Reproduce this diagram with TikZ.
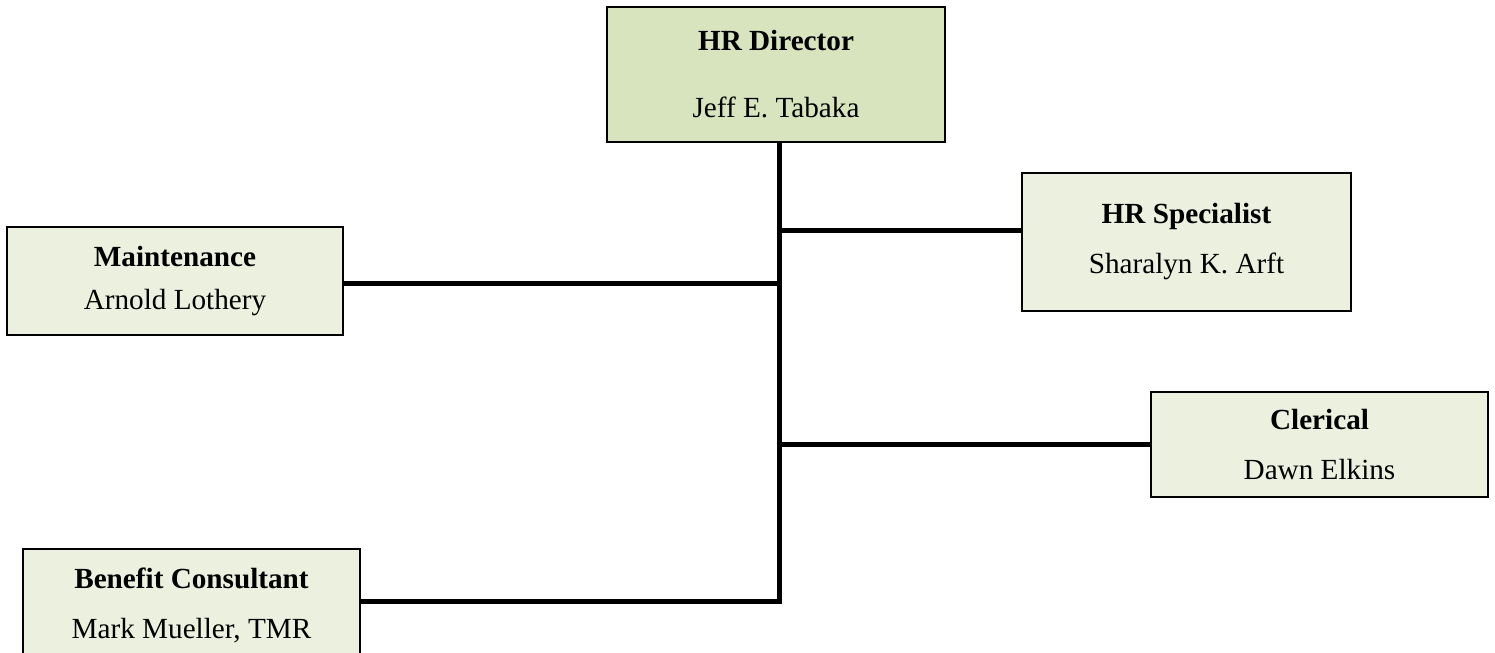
\documentclass[tikz,border=0pt]{standalone}
\usepackage{fontspec}
\setmainfont{Liberation Serif}
\usepackage{xcolor}
\usetikzlibrary{positioning}
\definecolor{headfill}{HTML}{D7E4BD}
\definecolor{stafffill}{HTML}{EBF1DE}
\tikzset{
  headbox/.style={draw=black,fill=headfill,line width=1pt,
                  inner sep=0pt,align=center,font=\fontsize{14.6}{16}\selectfont},
  staffbox/.style={headbox,fill=stafffill},
  orgline/.style={line width=2.5pt,color=black}
}

\begin{document}
\begin{tikzpicture}[x=0.5pt,y=-0.5pt]
  \useasboundingbox (0,0) rectangle (1495,653);
  % boxes
  \node[headbox,minimum width=169pt,minimum height=67.5pt] (dir) at (776,74.5)
    {\textbf{HR Director}\\[17.5pt]Jeff E. Tabaka};
  \node[staffbox,minimum width=164.5pt,minimum height=69pt] (spec) at (1186.5,242)
    {\textbf{HR Specialist}\\[9pt]Sharalyn K. Arft};
  \node[staffbox,minimum width=168pt,minimum height=54pt] (maint) at (175,281)
    {\textbf{Maintenance}\\[5.5pt]Arnold Lothery};
  \node[staffbox,minimum width=168.5pt,minimum height=52.5pt] (cler) at (1319.5,444.5)
    {\textbf{Clerical}\\[9pt]Dawn Elkins};
  \node[staffbox,minimum width=168.5pt,minimum height=56pt] (ben) at (191.5,605)
    {\textbf{Benefit Consultant}\\[9pt]Mark Mueller, TMR};

  % trunk and branches
  \coordinate (tbot) at (779,601);
  \coordinate (jspec) at (779,230);
  \coordinate (jmaint) at (779,283);
  \coordinate (jcler) at (779,444);
  \draw[orgline] (dir.south -| tbot) -- (tbot) -- (tbot -| ben.east);
  \draw[orgline] (jspec) -- (jspec -| spec.west);
  \draw[orgline] (jmaint) -- (jmaint -| maint.east);
  \draw[orgline] (jcler) -- (jcler -| cler.west);
\end{tikzpicture}
\end{document}
